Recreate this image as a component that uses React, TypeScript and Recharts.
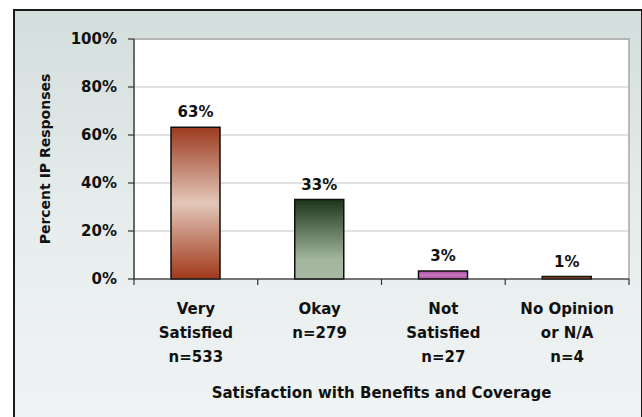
import React from 'react';
import { BarChart, Bar, XAxis, YAxis, CartesianGrid, Cell, LabelList, ReferenceArea } from 'recharts';

const categories = [
  ['Very', 'Satisfied', 'n=533'],
  ['Okay', 'n=279'],
  ['Not', 'Satisfied', 'n=27'],
  ['No Opinion', 'or N/A', 'n=4'],
];
const categoryKeys = ['Very Satisfied', 'Okay', 'Not Satisfied', 'No Opinion or N/A'];
const percentValues = [63.2, 33.1, 3.3, 1.0];
const valueLabels = ['63%', '33%', '3%', '1%'];
const yTicks = [0, 20, 40, 60, 80, 100];
const xTitle = 'Satisfaction with Benefits and Coverage';
const yTitle = 'Percent IP Responses';

const gradientIds = ['gVery', 'gOkay', 'gNot', 'gNone'];

const data = categoryKeys.map((k, i) => ({
  name: k,
  value: percentValues[i],
  label: valueLabels[i],
}));

const W = 642;
const H = 417;
const M = { top: 39, right: 13, left: 0, bottom: 0 };
const Y_AXIS_W = 134;
const X_AXIS_H = 138;
const PLOT_W = W - M.left - M.right - Y_AXIS_W;
const HALF_BAND = PLOT_W / categories.length / 2;
const FONT = '"DejaVu Sans", "Open Sans", sans-serif';

const XTick = (props: any) => {
  const { x, y, payload, index } = props;
  const lines = categories[index] || [String(payload.value)];
  return (
    <g>
      <line x1={x - HALF_BAND} x2={x - HALF_BAND} y1={y} y2={y + 6} stroke="#333" strokeWidth={1.2} />
      {index === categories.length - 1 && (
        <line x1={x + HALF_BAND} x2={x + HALF_BAND} y1={y} y2={y + 6} stroke="#333" strokeWidth={1.2} />
      )}
      {lines.map((ln: string, i: number) => (
        <text
          key={i}
          x={x}
          y={y + 30 + i * 24}
          textAnchor="middle"
          dominantBaseline="central"
          fontFamily={FONT}
          fontWeight={700}
          fontSize={15}
          fill="#111"
        >
          {ln}
        </text>
      ))}
    </g>
  );
};

export default function App() {
  return (
    <div style={{ position: 'absolute', left: 0, top: 0, width: W, height: H, overflow: 'hidden' }}>
      <div
        style={{
          position: 'absolute',
          left: 13,
          top: 9,
          width: 626,
          height: 440,
          border: '2px solid #1a1a1a',
          background: 'linear-gradient(to bottom, #d3dedc 0%, #e6ecec 45%, #f1f4f4 100%)',
        }}
      />
      <div style={{ position: 'absolute', left: 0, top: 0 }}>
        <BarChart width={W} height={H} data={data} margin={M} barSize={49}>
          <defs>
            <linearGradient id="gVery" x1="0" y1="0" x2="0" y2="1">
              <stop offset="0%" stopColor="#9c3a1f" />
              <stop offset="50%" stopColor="#e3c7b9" />
              <stop offset="100%" stopColor="#a0381a" />
            </linearGradient>
            <linearGradient id="gOkay" x1="0" y1="0" x2="0" y2="1">
              <stop offset="0%" stopColor="#1c361b" />
              <stop offset="75%" stopColor="#a2b59d" />
              <stop offset="100%" stopColor="#a8b9a3" />
            </linearGradient>
            <linearGradient id="gNot" x1="0" y1="0" x2="0" y2="1">
              <stop offset="0%" stopColor="#a9479f" />
              <stop offset="50%" stopColor="#c77cbe" />
              <stop offset="100%" stopColor="#a9479f" />
            </linearGradient>
            <linearGradient id="gNone" x1="0" y1="0" x2="0" y2="1">
              <stop offset="0%" stopColor="#a8481a" />
              <stop offset="100%" stopColor="#b4561e" />
            </linearGradient>
          </defs>
          <CartesianGrid vertical={false} stroke="#c4c4c4" fill="#ffffff" />
          <ReferenceArea y1={0} y2={100} fill="none" stroke="#a8a8a8" strokeWidth={1.5} ifOverflow="visible" />
          <XAxis
            dataKey="name"
            height={X_AXIS_H}
            interval={0}
            tickLine={false}
            tickSize={0}
            tickMargin={0}
            axisLine={{ stroke: '#333', strokeWidth: 1.2 }}
            tick={<XTick />}
            label={{
              content: (p: any) => {
                const vb = p.viewBox || { x: 134, y: 279, width: PLOT_W };
                return (
                  <text
                    x={vb.x + vb.width / 2}
                    y={vb.y + 114}
                    textAnchor="middle"
                    dominantBaseline="central"
                    fontFamily={FONT}
                    fontWeight={700}
                    fontSize={15}
                    fill="#111"
                  >
                    {xTitle}
                  </text>
                );
              },
            }}
          />
          <YAxis
            width={Y_AXIS_W}
            domain={[0, 100]}
            ticks={yTicks}
            interval={0}
            tickFormatter={(v: number) => `${v}%`}
            tickSize={6}
            tickMargin={11}
            axisLine={{ stroke: '#333', strokeWidth: 1.2 }}
            tickLine={{ stroke: '#333', strokeWidth: 1.2 }}
            tick={{ fontFamily: FONT, fontWeight: 700, fontSize: 15, fill: '#111' }}
            label={{
              content: (p: any) => {
                const vb = p.viewBox || { x: 0, y: 39, height: 240 };
                const cx = 45;
                const cy = vb.y + vb.height / 2;
                return (
                  <text
                    x={cx}
                    y={cy}
                    transform={`rotate(-90 ${cx} ${cy})`}
                    textAnchor="middle"
                    dominantBaseline="central"
                    fontFamily={FONT}
                    fontWeight={700}
                    fontSize={14}
                    fill="#111"
                  >
                    {yTitle}
                  </text>
                );
              },
            }}
          />
          <Bar dataKey="value" isAnimationActive={false} stroke="#111" strokeWidth={1.5}>
            {data.map((d, i) => (
              <Cell key={d.name} fill={`url(#${gradientIds[i]})`} />
            ))}
            <LabelList
              dataKey="label"
              position="top"
              offset={10}
              fontFamily={FONT}
              fontWeight={700}
              fontSize={15}
              fill="#111"
            />
          </Bar>
        </BarChart>
      </div>
    </div>
  );
}
